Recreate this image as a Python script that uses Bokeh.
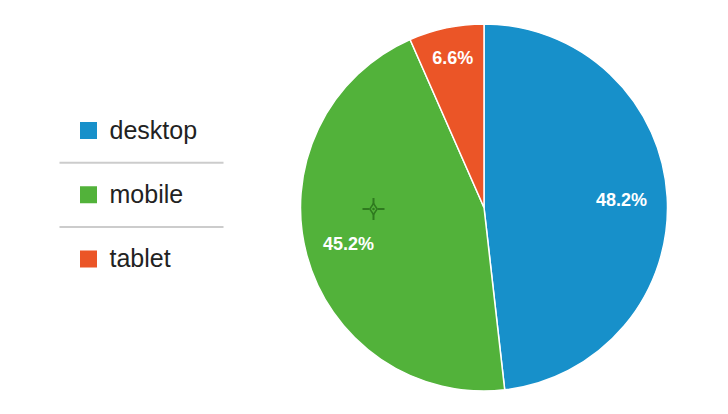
import math
from bokeh.plotting import figure
from bokeh.models import Range1d, ColumnDataSource
from bokeh.core.properties import value
from bokeh.embed import file_html
from bokeh.resources import INLINE

# ---- data ----
categories = ["desktop", "mobile", "tablet"]
shares = [48.2, 45.2, 6.6]
colors = ["#1790CA", "#52B23A", "#EB5527"]
label_texts = ["48.2%", "45.2%", "6.6%"]

W, H = 728, 414
p = figure(width=W, height=H, output_backend="svg", toolbar_location=None,
           x_range=Range1d(0, W), y_range=Range1d(0, H), min_border=0)
p.axis.visible = False
p.xgrid.visible = False
p.ygrid.visible = False
p.outline_line_color = None
p.background_fill_color = "white"

def Y(y):
    return H - y

# pie geometry (pixels)
cx, cy, r = 483.5, 207.0, 183.5
total = sum(shares)
starts, ends, mids = [], [], []
cum = 0.0
for s in shares:
    a0 = math.pi / 2 - 2 * math.pi * cum / total
    cum += s
    a1 = math.pi / 2 - 2 * math.pi * cum / total
    starts.append(a1)
    ends.append(a0)
    mids.append((a0 + a1) / 2)

src = ColumnDataSource(dict(start=starts, end=ends, color=colors))
p.wedge(x=cx, y=Y(cy), radius=r, start_angle="start", end_angle="end",
        fill_color="color", line_color="white", line_width=1.5, source=src)

# slice labels
fracs = [0.75, 0.765, 0.83]
lx = [cx + f * r * math.cos(m) for f, m in zip(fracs, mids)]
ly = [Y(cy) + f * r * math.sin(m) for f, m in zip(fracs, mids)]
p.text(x=lx, y=ly, text=label_texts, text_color="white",
       text_font=value("Liberation Sans"), text_font_style="bold",
       text_font_size="18px", text_align="center", text_baseline="middle")

# legend
leg_y = [130 + 64.3 * i for i in range(len(categories))]
p.rect(x=[88] * len(categories), y=[Y(v) for v in leg_y], width=17, height=17,
       fill_color=colors, line_color=None)
p.text(x=[109] * len(categories), y=[Y(v) + 1 for v in leg_y], text=categories,
       text_color="#222222", text_font=value("Liberation Sans"),
       text_font_size="25px", text_align="left", text_baseline="middle")
sep_y = [(leg_y[i] + leg_y[i + 1]) / 2 for i in range(len(categories) - 1)]
p.segment(x0=[59] * len(sep_y), x1=[223] * len(sep_y),
          y0=[Y(v) for v in sep_y], y1=[Y(v) for v in sep_y],
          line_color="#cccccc", line_width=2)

# cursor crosshair decoration
ccx, ccy = 373, 208.5
dk = "#2f7a1f"
p.scatter(x=[ccx], y=[Y(ccy)], marker="diamond", size=11,
          fill_color=None, line_color=dk, line_width=1.5)
p.segment(x0=[ccx - 11, ccx + 4, ccx, ccx], x1=[ccx - 4, ccx + 11, ccx, ccx],
          y0=[Y(ccy), Y(ccy), Y(ccy - 11), Y(ccy + 4)],
          y1=[Y(ccy), Y(ccy), Y(ccy - 4), Y(ccy + 11)],
          line_color=dk, line_width=2)
p.scatter(x=[ccx], y=[Y(ccy)], marker="circle", size=2.5,
          fill_color=dk, line_color=None)

open("out.html", "w").write(file_html(p, INLINE))
